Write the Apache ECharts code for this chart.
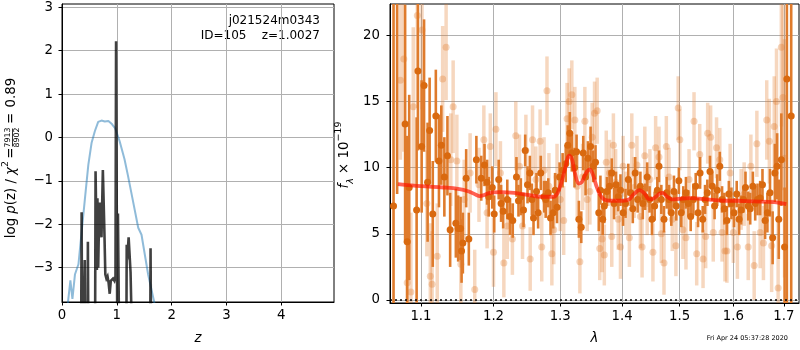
<!DOCTYPE html>
<html><head><meta charset="utf-8">
<script src="https://cdn.jsdelivr.net/npm/echarts@6/dist/echarts.min.js"></script>
<style>html,body{margin:0;padding:0;background:#fff}#c{width:800px;height:350px}</style>
</head><body><div id="c"></div>
<script>
// ---- left panel: redshift PDF ----
const zTicks = [0, 1, 2, 3, 4];
const logpTicks = [-3, -2, -1, 0, 1, 2, 3];
const zPrior = [0.10,0.153,0.19,0.237,0.30,0.36,0.425,0.48,0.54,0.60,0.66,0.72,0.78,0.846,0.91,0.97,1.0,1.05,1.14,1.2,1.30,1.39,1.45,1.57,1.70];
const logPrior = [-3.9,-3.29,-3.72,-3.15,-2.92,-2.15,-1.32,-0.63,-0.12,0.15,0.36,0.39,0.37,0.38,0.31,0.21,0.18,-0.08,-0.5,-0.86,-1.5,-2.08,-2.24,-3.15,-3.9];
const zPdf = [0.30,0.345,0.358,0.37,0.405,0.415,0.425,0.462,0.472,0.485,0.60,0.612,0.625,0.636,0.646,0.66,0.672,0.69,0.705,0.72,0.745,0.77,0.79,0.81,0.83,0.85,0.87,0.89,0.91,0.93,0.955,0.975,0.986,0.998,1.008,1.02,1.04,1.052,1.17,1.18,1.20,1.215,1.235,1.25,1.28,1.30,1.605,1.615,1.628,1.80];
const logPdf = [-6,-6,-1.72,-6,-6,-2.82,-6,-6,-2.4,-6,-6,-0.78,-1.9,-3.05,-1.4,-3.0,-2.15,-1.5,-1.85,-2.3,-0.75,-2.0,-3.15,-3.25,-3.2,-3.35,-3.6,-3.3,-3.3,-3.25,-3.3,-3.2,2.22,2.22,-4.5,-1.75,-1.78,-6,-6,-2.47,-2.6,-2.3,-2.3,-3.1,-3.1,-6,-6,-2.55,-6,-6];

// ---- right panel: spectrum ----
const lamTicks = [1.1, 1.2, 1.3, 1.4, 1.5, 1.6, 1.7];
const fluxTicks = [0, 5, 10, 15, 20];
const lamDark = [1.0644,1.0690,1.0793,1.0820,1.0846,1.0943,1.0960,1.1009,1.1041,1.1088,
1.1115,1.1157,1.1198,1.1240,1.1272,1.1313,1.1355,1.1392,1.1470,1.1502,
1.1535,1.1549,1.1567,1.1613,1.1650,1.1756,1.1825,1.1871,1.1908,1.1931,
1.1982,1.2010,1.2075,1.2110,1.2140,1.2200,1.2240,1.2280,1.2335,1.2365,
1.2400,1.2440,1.2465,1.2500,1.2535,1.2565,1.2590,1.2635,1.2660,1.2700,
1.2750,1.2775,1.2815,1.2850,1.2890,1.2920,1.2950,1.2990,1.3037,1.3086,
1.3118,1.3150,1.3182,1.3225,1.3257,1.3294,1.3332,1.3364,1.3401,1.3439,
1.3482,1.3524,1.3562,1.3615,1.3642,1.3679,1.3706,1.3749,1.3792,1.3829,
1.3867,1.3899,1.3936,1.3974,1.4018,1.4059,1.4106,1.4147,1.4182,1.4223,
1.4265,1.4312,1.4353,1.4394,1.4429,1.4470,1.4512,1.4559,1.4606,1.4635,
1.4676,1.4723,1.4770,1.4812,1.4853,1.4900,1.4941,1.4988,1.5031,1.5067,
1.5116,1.5159,1.5202,1.5251,1.5294,1.5337,1.5374,1.5423,1.5466,1.5509,
1.5558,1.5601,1.5644,1.5693,1.5742,1.5785,1.5828,1.5877,1.5914,1.5963,
1.6013,1.6065,1.6111,1.6150,1.6196,1.6235,1.6288,1.6327,1.6379,1.6425,
1.6471,1.6523,1.6569,1.6621,1.6667,1.6719,1.6772,1.6817,1.6863,1.6896,
1.6948,1.7014,1.7061,1.7150];
const fluxDark = [7.1,23.0,13.3,4.4,8.5,6.8,17.3,11.6,16.2,8.9,
12.8,6.5,13.9,10.5,11.7,9.3,10.9,5.3,5.8,5.4,
5.4,3.7,4.3,9.2,4.6,10.6,9.2,10.2,8.9,7.8,
8.5,6.5,9.1,7.3,6.7,7.6,6.3,6.0,9.3,7.5,
7.8,6.8,11.3,8.7,9.6,7.6,6.2,8.2,6.6,9.6,
7.8,7.6,8.1,6.2,6.6,8.3,7.0,9.3,9.8,10.3,
11.7,12.6,11.1,10.0,11.2,6.1,5.5,11.1,9.3,10.7,
11.6,10.1,10.4,6.6,8.3,6.1,7.1,8.2,8.6,9.6,
7.3,8.7,7.8,8.3,6.6,7.3,9.1,8.1,6.9,9.6,
7.6,8.6,7.3,7.8,9.3,7.6,6.1,7.1,8.3,10.1,
7.6,6.1,8.1,7.6,6.6,8.2,7.1,9.0,6.6,7.6,
8.1,7.3,6.3,7.6,8.6,6.6,9.6,6.1,7.6,8.1,
9.7,8.6,7.1,8.3,10.1,7.6,6.9,6.0,8.0,7.3,
6.6,8.0,6.1,6.8,7.6,8.5,7.1,6.9,8.6,7.3,
7.6,7.7,8.7,6.0,6.6,8.1,4.7,9.6,10.1,6.1,
10.6,4.0,16.7,13.9];
const errDark = [20,15,9,8,7,7,6,5,5,4.5,
4,4,3.5,3.5,3,3,3,2.8,2.6,2.5,
2.4,2.4,2.3,2.2,2.0,1.8,1.7,1.6,1.7,1.5,
1.6,1.4,1.5,1.4,1.3,1.5,1.4,1.3,1.5,1.2,
1.4,1.3,1.2,1.4,1.3,1.2,1.3,1.4,1.2,1.3,
1.2,1.4,1.1,1.3,1.2,1.3,1.2,1.1,1.3,1.4,
1.5,1.6,1.4,1.5,1.3,1.4,1.2,1.3,1.4,1.3,
1.5,1.2,1.3,1.4,1.1,1.2,1.3,1.1,1.2,1.1,
1.2,1.0,1.1,1.2,1.0,1.1,1.2,1.0,1.1,1.2,
1.0,1.1,1.2,1.0,1.1,1.0,1.2,1.1,1.0,1.2,
1.1,1.0,1.2,1.1,1.0,1.2,1.1,1.0,1.1,1.0,
1.2,1.0,1.1,1.2,1.0,1.1,1.2,1.0,1.1,1.0,
1.2,1.1,1.0,1.2,1.1,1.0,1.2,1.1,1.0,1.2,
1.1,1.0,1.2,1.1,1.0,1.2,1.1,1.2,1.1,1.3,
1.2,1.3,1.2,1.4,1.5,1.8,2.0,2.2,2.5,3.0,
3.5,4.5,20,20];
const lamLight = [1.0732,1.0776,1.0820,1.0868,1.0899,1.0952,1.1014,1.1078,1.1124,1.1148,
1.1217,1.1290,1.1337,1.1401,1.1433,1.1484,1.1539,1.1585,1.1668,1.1733,
1.1793,1.1862,1.1908,1.1954,1.2000,1.2035,1.2100,1.2150,1.2200,1.2275,
1.2325,1.2380,1.2425,1.2475,1.2540,1.2575,1.2625,1.2690,1.2715,1.2750,
1.2795,1.2825,1.2870,1.2900,1.2950,1.3000,1.3054,1.3107,1.3139,1.3182,
1.3230,1.3268,1.3310,1.3353,1.3390,1.3428,1.3471,1.3508,1.3546,1.3589,
1.3631,1.3669,1.3706,1.3738,1.3792,1.3829,1.3856,1.3893,1.3936,1.3974,
1.4018,1.4065,1.4124,1.4165,1.4206,1.4253,1.4312,1.4341,1.4388,1.4429,
1.4476,1.4529,1.4576,1.4635,1.4676,1.4723,1.4764,1.4812,1.4870,1.4935,
1.4976,1.5006,1.5061,1.5116,1.5172,1.5263,1.5312,1.5368,1.5429,1.5478,
1.5515,1.5570,1.5619,1.5681,1.5742,1.5785,1.5840,1.5877,1.5939,1.6000,
1.6078,1.6150,1.6209,1.6288,1.6340,1.6405,1.6458,1.6523,1.6588,1.6654,
1.6706,1.6752,1.6804,1.6850,1.6883,1.6948,1.6981,1.7014];
const fluxLight = [16.6,18.2,1.3,0.6,14.6,21.5,20.4,7.3,1.8,1.2,
3.3,16.7,19.1,10.6,14.6,10.5,2.7,7.6,9.6,0.8,
8.7,12.1,6.6,11.6,3.6,12.9,9.6,2.8,5.6,4.6,
12.4,10.1,5.6,11.3,3.1,12.1,9.1,12.0,4.0,9.8,
15.8,8.6,3.5,5.3,9.3,7.6,6.0,13.7,15.0,15.5,
13.6,8.6,2.9,9.3,13.5,7.6,8.2,12.3,14.1,14.3,
3.9,4.6,3.4,10.4,9.6,4.8,11.7,8.9,6.1,4.0,
10.1,7.3,4.7,11.7,8.5,10.2,6.3,4.0,10.9,7.3,
9.1,3.6,11.5,10.8,5.0,2.8,11.6,9.3,6.1,4.1,
14.5,12.1,5.3,4.7,9.1,13.5,3.5,11.0,3.1,4.8,
12.6,12.3,5.1,11.5,10.6,5.1,3.7,3.7,9.6,5.1,
4.0,7.6,8.0,4.0,10.1,2.6,11.8,5.1,4.3,13.6,
12.0,4.1,13.1,15.0,0.9,19.1,15.3,10.7];
const errLight = [6,7,5,6,6,7,6,4,4,4,
4,4,4,3.5,3.5,3.5,3,3,3,3,
2.8,2.6,2.7,2.5,2.6,2.8,2.4,2.6,2.5,2.7,
2.6,2.4,2.5,2.7,2.4,2.6,2.5,2.4,2.6,2.5,
2.6,2.5,2.4,2.6,2.5,2.4,2.6,2.7,2.5,2.6,
2.5,2.6,2.4,2.5,2.6,2.4,2.5,2.6,2.4,2.5,
2.4,2.5,2.3,2.4,2.5,2.3,2.4,2.5,2.3,2.4,
2.3,2.4,2.2,2.4,2.3,2.2,2.4,2.3,2.2,2.4,
2.3,2.2,2.4,2.3,2.2,2.4,2.3,2.2,2.4,2.3,
2.4,2.3,2.2,2.4,2.3,2.2,2.4,2.3,2.2,2.4,
2.3,2.4,2.2,2.3,2.4,2.2,2.3,2.4,2.2,2.3,
2.4,2.3,2.4,2.5,2.4,2.6,2.5,2.7,2.8,3.0,
3.2,3.5,3.8,4,5,6,7,9];
const lamModel = [1.070,1.100,1.130,1.150,1.165,1.175,1.180,1.185,1.195,1.210,1.230,1.250,1.270,1.290,1.296,1.302,1.308,1.314,1.318,1.323,1.329,1.334,1.340,1.346,1.351,1.357,1.363,1.370,1.380,1.400,1.412,1.420,1.430,1.438,1.447,1.455,1.465,1.470,1.478,1.487,1.500,1.520,1.550,1.580,1.600,1.640,1.680,1.705];
const fluxModel = [8.75,8.6,8.5,8.4,8.2,7.95,7.85,7.9,8.1,8.15,8.1,7.95,7.8,7.8,8.1,8.9,10.0,10.9,10.7,9.6,8.8,8.9,9.5,9.85,9.6,8.7,8.0,7.6,7.5,7.5,7.6,8.0,8.3,8.05,7.6,7.7,8.05,8.1,7.8,7.6,7.65,7.7,7.6,7.5,7.5,7.45,7.4,7.25];

// ---- build ----
const FONT = 'DejaVu Sans';
const FS = 13.3;
const L10 = Math.log10;
const pair = (xs, ys, fx) => xs.map((x, i) => [fx ? fx(x) : x, ys[i]]);
const triple = (xs, ys, es) => xs.map((x, i) => [L10(x), ys[i], es[i]]);
const minus = v => String(v).replace('-', '\u2212');
const font = s => s + 'px "' + FONT + '"';

function errBars(color, width) {
  return function (params, api) {
    const x = api.value(0), y = api.value(1), e = api.value(2);
    const p0 = api.coord([x, y - e]), p1 = api.coord([x, y + e]);
    return { type: 'line', shape: { x1: p0[0], y1: p0[1], x2: p1[0], y2: p1[1] },
             style: { stroke: color, lineWidth: width } };
  };
}

const gridLine = { show: true, lineStyle: { color: '#b0b0b0', width: 1 } };
const tickStyle = { show: true, inside: false, length: 3.5, lineStyle: { color: '#000', width: 1 } };
const lblStyle = { color: '#000', fontFamily: FONT, fontSize: FS };

const chart = echarts.init(document.getElementById('c'), null, { renderer: 'canvas', width: 800, height: 350 });
chart.setOption({
  animation: false,
  backgroundColor: '#fff',
  grid: [
    { left: 62, top: 4, width: 272, height: 300, show: true, borderColor: '#000', borderWidth: 1, backgroundColor: 'transparent' },
    { left: 390, top: 4, width: 409, height: 300, show: true, borderColor: '#000', borderWidth: 1, backgroundColor: 'transparent' }
  ],
  xAxis: [
    { type: 'value', gridIndex: 0, min: 0, max: 4.96,
      name: 'z', nameLocation: 'middle', nameGap: 30,
      nameTextStyle: { fontFamily: FONT, fontSize: FS, fontStyle: 'italic', color: '#000' },
      axisLine: { show: true, onZero: false, lineStyle: { color: '#000' } },
      axisTick: Object.assign({ customValues: zTicks }, tickStyle),
      axisLabel: Object.assign({ customValues: zTicks, margin: 7, formatter: v => minus(v) }, lblStyle),
      splitLine: gridLine },
    { type: 'value', gridIndex: 1, min: L10(1.0599), max: L10(1.7311),
      name: '\u03bb', nameLocation: 'middle', nameGap: 29,
      nameTextStyle: { fontFamily: FONT, fontSize: FS, fontStyle: 'italic', color: '#000' },
      axisLine: { show: true, onZero: false, lineStyle: { color: '#000' } },
      axisTick: Object.assign({ customValues: lamTicks.map(L10) }, tickStyle),
      axisLabel: Object.assign({ customValues: lamTicks.map(L10), margin: 7,
        formatter: v => Math.pow(10, v).toFixed(1) }, lblStyle),
      splitLine: gridLine }
  ],
  yAxis: [
    { type: 'value', gridIndex: 0, min: -3.79, max: 3.076,
      axisLine: { show: true, onZero: false, lineStyle: { color: '#000' } },
      axisTick: Object.assign({ customValues: logpTicks }, tickStyle),
      axisLabel: Object.assign({ customValues: logpTicks, margin: 9, formatter: v => minus(v) }, lblStyle),
      splitLine: gridLine },
    { type: 'value', gridIndex: 1, min: -0.225, max: 22.36,
      axisLine: { show: true, onZero: false, lineStyle: { color: '#000' } },
      axisTick: Object.assign({ customValues: fluxTicks }, tickStyle),
      axisLabel: Object.assign({ customValues: fluxTicks, margin: 10, formatter: v => minus(v) }, lblStyle),
      splitLine: gridLine }
  ],
  series: [
    { type: 'line', xAxisIndex: 0, yAxisIndex: 0, data: pair(zPrior, logPrior), showSymbol: false, symbol: 'none',
      clip: true, lineStyle: { color: 'rgba(31,119,180,0.5)', width: 2 }, z: 2 },
    { type: 'line', xAxisIndex: 0, yAxisIndex: 0, data: pair(zPdf, logPdf), showSymbol: false, symbol: 'none',
      clip: true, lineStyle: { color: 'rgba(0,0,0,0.75)', width: 2.6, join: 'miter' }, z: 3 },
    { type: 'custom', xAxisIndex: 1, yAxisIndex: 1, clip: true, data: triple(lamLight, fluxLight, errLight),
      renderItem: errBars('rgba(224,122,43,0.3)', 3.5), z: 2 },
    { type: 'scatter', xAxisIndex: 1, yAxisIndex: 1, clip: true, data: triple(lamLight, fluxLight, errLight),
      symbolSize: 7, itemStyle: { color: 'rgba(224,122,43,0.4)' }, z: 2 },
    { type: 'custom', xAxisIndex: 1, yAxisIndex: 1, clip: true, data: triple(lamDark, fluxDark, errDark),
      renderItem: errBars('#df7b2c', 2.6), z: 3 },
    { type: 'scatter', xAxisIndex: 1, yAxisIndex: 1, clip: true, data: triple(lamDark, fluxDark, errDark),
      symbolSize: 7, itemStyle: { color: '#d9690f', opacity: 1 }, z: 3 },
    { type: 'line', xAxisIndex: 1, yAxisIndex: 1, data: pair(lamModel, fluxModel, L10), showSymbol: false, symbol: 'none',
      smooth: 0.35, clip: true, lineStyle: { color: 'rgba(255,20,0,0.68)', width: 3.8 }, z: 4,
      markLine: { silent: true, symbol: 'none', label: { show: false },
        lineStyle: { color: '#000', type: [2, 3], width: 1.6 }, data: [{ yAxis: 0 }] } }
  ],
  graphic: [
    { type: 'text', right: 800 - 320, top: 15, style: { text: 'j021524m0343', fill: '#000', font: font(12) } },
    { type: 'text', right: 800 - 320, top: 30, style: { text: 'ID=105    z=1.0027', fill: '#000', font: font(12) } },
    { type: 'text', right: 800 - 788, top: 335, style: { text: 'Fri Apr 24 05:37:28 2020', fill: '#000', font: font(6.5) } },
    { type: 'group', x: 12, y: 156.5, rotation: Math.PI / 2, children: [
      { type: 'text', x: -4.5, y: 0, style: {
          text: '{n|log }{i|p}{n|(z) / }{i|\u03c7}{sup|2}', align: 'right', verticalAlign: 'middle',
          rich: {
            n: { fontFamily: FONT, fontSize: FS, fill: '#000', lineHeight: 22, verticalAlign: 'middle' },
            i: { fontFamily: FONT, fontSize: FS, fontStyle: 'italic', fill: '#000', lineHeight: 22, verticalAlign: 'middle' },
            sup: { fontFamily: FONT, fontSize: 9.5, fill: '#000', lineHeight: 11, verticalAlign: 'top' }
          } } },
      { type: 'text', x: 3.3, y: 0, style: { text: '=', align: 'center', verticalAlign: 'middle', fill: '#000', font: font(FS) } },
      { type: 'text', x: 19, y: -4.2, style: { text: '7913', align: 'center', verticalAlign: 'middle', fill: '#000', font: font(7.8) } },
      { type: 'line', shape: { x1: 10, y1: 0.5, x2: 28, y2: 0.5 }, style: { stroke: '#000', lineWidth: 0.8 } },
      { type: 'text', x: 19, y: 5.4, style: { text: '8902', align: 'center', verticalAlign: 'middle', fill: '#000', font: font(7.8) } },
      { type: 'text', x: 38, y: 0, style: { text: '=', align: 'center', verticalAlign: 'middle', fill: '#000', font: font(FS) } },
      { type: 'text', x: 49, y: 0, style: { text: '0.89', align: 'left', verticalAlign: 'middle', fill: '#000', font: font(FS) } }
    ] },
    { type: 'group', x: 345, y: 155, rotation: Math.PI / 2, children: [
      { type: 'text', x: 0, y: 0, style: {
          text: '{i|f}{sub|\u03bb}{n| \u00d7 10}{sup|\u221219}', align: 'center', verticalAlign: 'middle',
          rich: {
            n: { fontFamily: FONT, fontSize: FS, fill: '#000', lineHeight: 22, verticalAlign: 'middle' },
            i: { fontFamily: FONT, fontSize: FS, fontStyle: 'italic', fill: '#000', lineHeight: 22, verticalAlign: 'middle' },
            sup: { fontFamily: FONT, fontSize: 9.5, fill: '#000', lineHeight: 11, verticalAlign: 'top' },
            sub: { fontFamily: FONT, fontSize: 9.5, fontStyle: 'italic', fill: '#000', lineHeight: 11, verticalAlign: 'bottom' }
          } } }
    ] }
  ]
});
</script>
</body></html>
